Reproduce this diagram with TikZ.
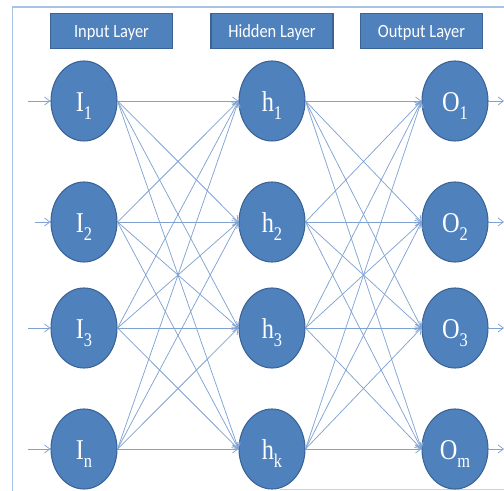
\documentclass[tikz,border=0pt]{standalone}
\usepackage{fontspec}
\setmainfont{Liberation Serif}
\newfontfamily\calfont{Carlito}
\usetikzlibrary{shapes.geometric,arrows.meta}
\definecolor{nodefill}{HTML}{4F81BD}
\definecolor{nodeedge}{HTML}{3A6396}
\definecolor{linkcol}{HTML}{7FA2D2}
\definecolor{framecol}{HTML}{A9C1E3}
\newlength{\pxu}
\setlength{\pxu}{0.75pt}
\newcommand{\nlab}[2]{\scalebox{0.85}[1]{#1\raisebox{-8\pxu}{\fontsize{14.5}{14.5}\selectfont #2}}}
\newcommand{\blab}[1]{\scalebox{0.88}[1]{#1}}
\tikzset{
  neuron/.style={ellipse, fill=nodefill, draw=nodeedge, line width=0.8pt,
    minimum width=66\pxu, minimum height=80\pxu, inner sep=0pt,
    text height=22\pxu, text depth=0pt,
    text=white, font=\fontsize{21.5}{21.5}\selectfont},
  layerbox/.style={rectangle, fill=nodefill, draw=nodeedge, line width=0.8pt,
    minimum width=122\pxu, minimum height=35\pxu, inner sep=0pt,
    text height=14\pxu, text depth=0pt,
    text=white, font=\calfont\fontsize{14}{14}\selectfont},
  link/.style={draw=linkcol, line width=0.55pt, -{Straight Barb[length=4pt,width=6pt]}},
}
\begin{document}
\begin{tikzpicture}[x=0.75pt,y=-0.75pt]
\useasboundingbox (0,0) rectangle (504,491);
% frame
\draw[framecol, line width=0.8pt] (12.5,491) -- (12.5,7) -- (504,7);
\draw[framecol!70, line width=0.8pt] (280,489.5) -- (504,489.5);
% layer labels
\node[layerbox] (lin) at (111.5,31) {\blab{Input Layer}};
\node[layerbox] (lhid) at (272,31) {\blab{Hidden Layer}};
\node[layerbox] (lout) at (421.5,31) {\blab{Output Layer}};
% coordinates for inputs/outputs
\foreach \n/\y/\xs in {1/101/28, 2/222/35, 3/328/28, 4/449/28}{
  \coordinate (s\n) at (\xs,\y);
  \coordinate (t\n) at (504,\y);
}
% neurons
\node[neuron] (i1) at (84,101) {\nlab{I}{1}};
\node[neuron] (i2) at (84,222) {\nlab{I}{2}};
\node[neuron] (i3) at (84,328) {\nlab{I}{3}};
\node[neuron] (i4) at (84,449) {\nlab{I}{n}};
\node[neuron] (h1) at (272,101) {\nlab{h}{1}};
\node[neuron] (h2) at (272,222) {\nlab{h}{2}};
\node[neuron] (h3) at (272,328) {\nlab{h}{3}};
\node[neuron] (h4) at (272,449) {\nlab{h}{k}};
\node[neuron] (o1) at (455,101) {\nlab{O}{1}};
\node[neuron] (o2) at (455,222) {\nlab{O}{2}};
\node[neuron] (o3) at (455,328) {\nlab{O}{3}};
\node[neuron] (o4) at (455,449) {\nlab{O}{m}};
% links
\foreach \a in {1,...,4}{
  \draw[link] (s\a) -- (i\a.west);
  \draw[link] (o\a.east) -- (t\a);
  \foreach \b in {1,...,4}{
    \draw[link] (i\a.east) -- (h\b.west);
    \draw[link] (h\a.east) -- (o\b.west);
  }
}
\end{tikzpicture}
\end{document}
